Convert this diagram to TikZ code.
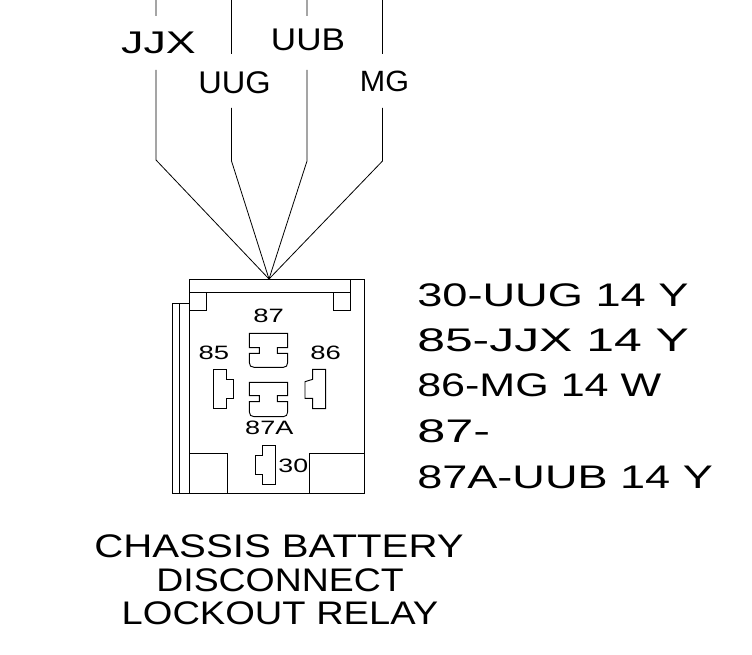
\documentclass[tikz,border=0pt]{standalone}
\usepackage{fontspec}
\usepackage{graphicx}
\setmainfont{Liberation Sans}
\newcommand{\wx}[2]{\scalebox{#1}[1]{#2}}
\begin{document}
\begin{tikzpicture}[x=0.75pt,y=-0.75pt,
  wire/.style={draw=black,line width=0.6pt},
  part/.style={draw=black,line width=0.7pt},
  lbl/.style={inner sep=0pt,anchor=center},
  wirelbl/.style={lbl,font=\fontsize{23.5pt}{25pt}\selectfont},
  pinlbl/.style={lbl,font=\fontsize{14.5pt}{17pt}\selectfont},
  listlbl/.style={inner sep=0pt,anchor=west,font=\fontsize{24.5pt}{28pt}\selectfont},
  titlelbl/.style={lbl,font=\fontsize{24.5pt}{28pt}\selectfont}]
\useasboundingbox (0,0) rectangle (752,655);
% wires
\coordinate (apex) at (269,279);
\coordinate (a0) at (156,0); \coordinate (a1) at (156,16); \coordinate (a2) at (156,70); \coordinate (a3) at (156,160);
\coordinate (b0) at (231.5,0); \coordinate (b1) at (231.5,54); \coordinate (b2) at (231.5,108); \coordinate (b3) at (231.5,161);
\coordinate (c0) at (307,0); \coordinate (c1) at (307,16); \coordinate (c2) at (307,70); \coordinate (c3) at (307,161);
\coordinate (d0) at (382.5,0); \coordinate (d1) at (382.5,54); \coordinate (d2) at (382.5,108); \coordinate (d3) at (382.5,161);
\draw[wire] (a0)--(a1) (a2)--(a3)--(apex);
\draw[wire] (b0)--(b1) (b2)--(b3)--(apex);
\draw[wire] (c0)--(c1) (c2)--(c3)--(apex);
\draw[wire] (d0)--(d1) (d2)--(d3)--(apex);
\node[wirelbl] (jjx) at (158.5,43) {\wx{1.43}{JJX}};
\node[wirelbl] (uug) at (234.5,83) {\wx{1.04}{UUG}};
\node[wirelbl] (uub) at (308,40) {\wx{1.12}{UUB}};
\node[wirelbl,font=\fontsize{22pt}{24pt}\selectfont] (mg) at (384.5,81) {\wx{1.04}{MG}};
% relay body
\draw[part] (189,279.5) rectangle (364.5,493.5);
\draw[part] (189,292)--(350,292) (350,279.5)--(350,310)--(333,310)--(333,292);
\draw[part] (189,310)--(206,310)--(206,292);
\draw[part] (172.5,493.5)--(172.5,303.5)--(189,303.5) (179.5,303.5)--(179.5,493.5) (172.5,493.5)--(189,493.5);
\draw[part] (189,453.5)--(227.5,453.5)--(227.5,493.5);
\draw[part] (364.5,453.5)--(309.5,453.5)--(309.5,493.5);
% pins, in 3x crop units
\begin{scope}[shift={(160,265)}]
\begin{scope}[x=0.25pt,y=-0.25pt]
\draw[part] (268,205)--(383,205)--(383,248)--(352,248)--(352,265)--(383,265)--(383,293)
  .. controls (383,302) and (378,307) .. (370,307)--(282,307)
  .. controls (273,307) and (268,302) .. (268,293)--(268,265)--(298,265)--(298,248)--(268,248)--cycle;
\draw[part] (268,352)--(383,352)--(383,392)--(352,392)--(352,410)--(383,410)--(383,441)
  .. controls (383,450) and (378,455) .. (370,455)--(282,455)
  .. controls (273,455) and (268,450) .. (268,441)--(268,410)--(298,410)--(298,392)--(268,392)--cycle;
\draw[part] (160,313)--(200,313)--(200,343)--(221,343)--(221,400)--(200,400)--(200,431)--(160,431)--cycle;
\draw[part] (497,313)--(458,313)--(458,343)--(435,350)--(435,400)--(458,400)--(458,431)--(497,431)--cycle;
\draw[part] (347,540)--(307,540)--(307,570)--(285,570)--(285,628)--(307,628)--(307,658)--(347,658)--cycle;
\end{scope}
\end{scope}
\node[pinlbl] (p87) at (268.7,316) {\wx{1.42}{87}};
\node[pinlbl] (p85) at (214,353) {\wx{1.42}{85}};
\node[pinlbl] (p86) at (325.7,353) {\wx{1.42}{86}};
\node[pinlbl] (p87a) at (269.3,427.5) {\wx{1.4}{87A}};
\node[pinlbl] (p30) at (293.3,465.5) {\wx{1.38}{30}};
% list
\node[listlbl] (l1) at (417,295) {\wx{1.384}{30-UUG 14 Y}};
\node[listlbl] (l2) at (417,340) {\wx{1.527}{85-JJX 14 Y}};
\node[listlbl] (l3) at (417,385) {\wx{1.318}{86-MG 14 W}};
\node[listlbl] (l4) at (417,431) {\wx{1.543}{87-}};
\node[listlbl] (l5) at (417,477) {\wx{1.38}{87A-UUB 14 Y}};
\node[titlelbl] (t1) at (279,546) {\wx{1.23}{CHASSIS BATTERY}};
\node[titlelbl] (t2) at (280,580) {\wx{1.145}{DISCONNECT}};
\node[titlelbl] (t3) at (280,613) {\wx{1.165}{LOCKOUT RELAY}};
\end{tikzpicture}
\end{document}
